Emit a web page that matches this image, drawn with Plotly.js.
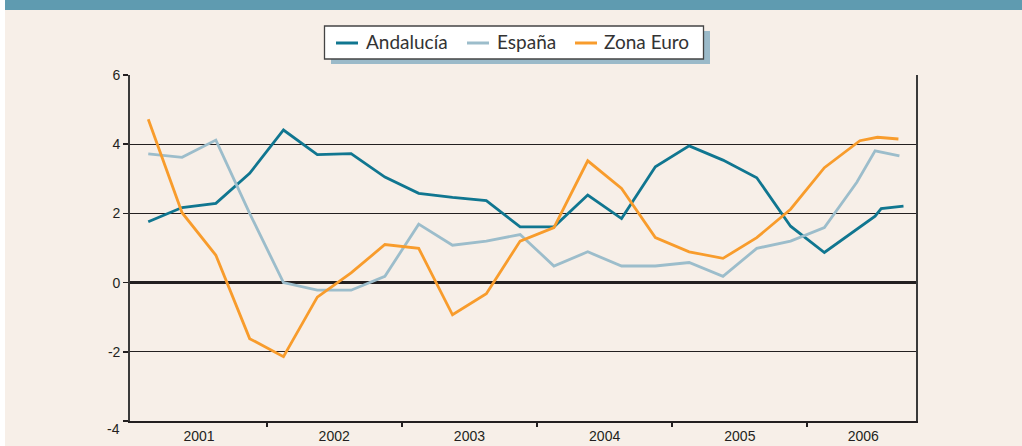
<!DOCTYPE html>
<html>
<head>
<meta charset="utf-8">
<script src="https://cdn.plot.ly/plotly-3.0.1.min.js"></script>
<style>
  html, body { margin: 0; padding: 0; background: #ffffff; }
  #chart { width: 1022px; height: 446px; }
</style>
</head>
<body>
<div id="chart"></div>
<script>
// Quarterly positions (0 = 2001 Q1), last points of 2006 irregularly spaced
const andaluciaX = [0,1,2,3,4,5,6,7,8,9,10,11,12,13,14,15,16,17,18,19,20,21.5,21.68,22.34];
const andaluciaY = [1.76,2.17,2.29,3.16,4.41,3.70,3.73,3.05,2.58,2.46,2.37,1.61,1.61,2.53,1.85,3.35,3.95,3.54,3.03,1.63,0.87,1.92,2.14,2.21];

const espanaX = [0,1,2,3,4,5,6,7,8,9,10,11,12,13,14,15,16,17,18,19,20,20.96,21.5,22.22];
const espanaY = [3.72,3.62,4.12,2.0,0.0,-0.22,-0.22,0.18,1.69,1.08,1.20,1.39,0.48,0.89,0.48,0.48,0.58,0.18,0.99,1.20,1.59,2.9,3.81,3.66];

const euroX = [0,1,2,3,4,5,6,7,8,9,10,11,12,13,14,15,16,17,18,19,20,21.05,21.57,22.19];
const euroY = [4.72,2.02,0.79,-1.62,-2.14,-0.42,0.28,1.10,0.99,-0.93,-0.32,1.20,1.59,3.52,2.72,1.30,0.89,0.70,1.30,2.12,3.32,4.10,4.20,4.15];

const seriesNames = ['Andalucía', 'España', 'Zona Euro'];
const seriesColors = ['#107690', '#9cbdcb', '#f89c2c'];

const yearLabels = ["2001","2002","2003","2004","2005","2006"];
const yearCenters = [1.5,5.5,9.5,13.5,17.5,21.15];
const yearBounds = [3.5,7.5,11.5,15.5,19.5];
const yTicks = [-4,-2,0,2,4,6];
const yTickText = ["","-2","0","2","4","6"];

const BG = '#f7efe8';

// pixel helpers for paper-referenced decorations (plot area: x 130..916, y 75..421)
const PL = 130, PR = 916, PT = 75, PB = 421;
const px = v => (v - PL) / (PR - PL);
const py = v => (PB - v) / (PB - PT);

const xs = [andaluciaX, espanaX, euroX];
const ys = [andaluciaY, espanaY, euroY];
const traces = seriesNames.map((n, i) => ({
  x: xs[i], y: ys[i], name: n, mode: 'lines',
  line: {color: seriesColors[i], width: 2.8}
}));

// manual legend layout
const legLineX = [[336, 358], [467, 489], [575, 597]];
const legTextX = [364, 495, 602];
const legY = 43;

const shapes = [
  {type: 'rect', xref: 'paper', yref: 'paper', x0: px(-2), x1: px(1030), y0: py(10), y1: py(-5),
   fillcolor: '#5f9bb0', line: {width: 0}, layer: 'below'},
  {type: 'rect', xref: 'paper', yref: 'paper', x0: px(-5), x1: px(5), y0: py(450), y1: py(-5),
   fillcolor: '#ffffff', line: {width: 0}, layer: 'above'},
  // legend shadow + box
  {type: 'rect', xref: 'paper', yref: 'paper', x0: px(331), x1: px(710), y0: py(64), y1: py(31),
   fillcolor: '#9bbac9', line: {width: 0}, layer: 'above'},
  {type: 'rect', xref: 'paper', yref: 'paper', x0: px(324.5), x1: px(703.5), y0: py(59), y1: py(26),
   fillcolor: '#ffffff', line: {width: 1.3, color: '#444444'}, layer: 'above'}
];
seriesNames.forEach((n, i) => {
  shapes.push({type: 'line', xref: 'paper', yref: 'paper',
    x0: px(legLineX[i][0]), x1: px(legLineX[i][1]), y0: py(legY), y1: py(legY),
    line: {color: seriesColors[i], width: 3}, layer: 'above'});
});

const annotations = seriesNames.map((n, i) => ({
  text: n, xref: 'paper', yref: 'paper', x: px(legTextX[i]), y: py(legY - 1),
  xanchor: 'left', yanchor: 'middle', showarrow: false,
  font: {family: 'Lato, Open Sans, sans-serif', size: 19, color: '#333333'}
}));
annotations.push({
  text: '-4', xref: 'paper', yref: 'y', x: 0, y: -4, xanchor: 'right', yanchor: 'middle',
  xshift: -8, yshift: -8, showarrow: false,
  font: {family: 'Liberation Sans, Arial, sans-serif', size: 14, color: '#231f20'}
});

const layout = {
  width: 1022, height: 446,
  margin: {l: PL, r: 1022 - PR, t: PT, b: 446 - PB},
  paper_bgcolor: BG,
  plot_bgcolor: BG,
  font: {family: 'Liberation Sans, Arial, sans-serif', color: '#231f20', size: 14},
  showlegend: false,
  xaxis: {
    range: [-0.54, 22.71],
    tickmode: 'array', tickvals: yearCenters, ticktext: yearLabels,
    ticks: '', showgrid: false, zeroline: false,
    showline: true, linecolor: '#231f20', linewidth: 1.5,
    tickfont: {size: 14}, ticklabelstandoff: 2,
    minor: {tickmode: 'array', tickvals: yearBounds, ticks: 'outside', ticklen: 4, tickwidth: 2, tickcolor: '#231f20', showgrid: false}
  },
  yaxis: {
    range: [-4, 6],
    tickmode: 'array', tickvals: yTicks, ticktext: yTickText,
    ticks: 'outside', ticklen: 5, tickwidth: 1.5, tickcolor: '#231f20',
    showgrid: true, gridcolor: '#231f20', gridwidth: 1.2,
    zeroline: true, zerolinecolor: '#231f20', zerolinewidth: 3,
    showline: true, linecolor: '#3a3a3a', linewidth: 1.8, mirror: true,
    tickfont: {size: 14}
  },
  shapes: shapes,
  annotations: annotations
};

Plotly.newPlot('chart', traces, layout, {displayModeBar: false, staticPlot: true});
</script>
</body>
</html>
